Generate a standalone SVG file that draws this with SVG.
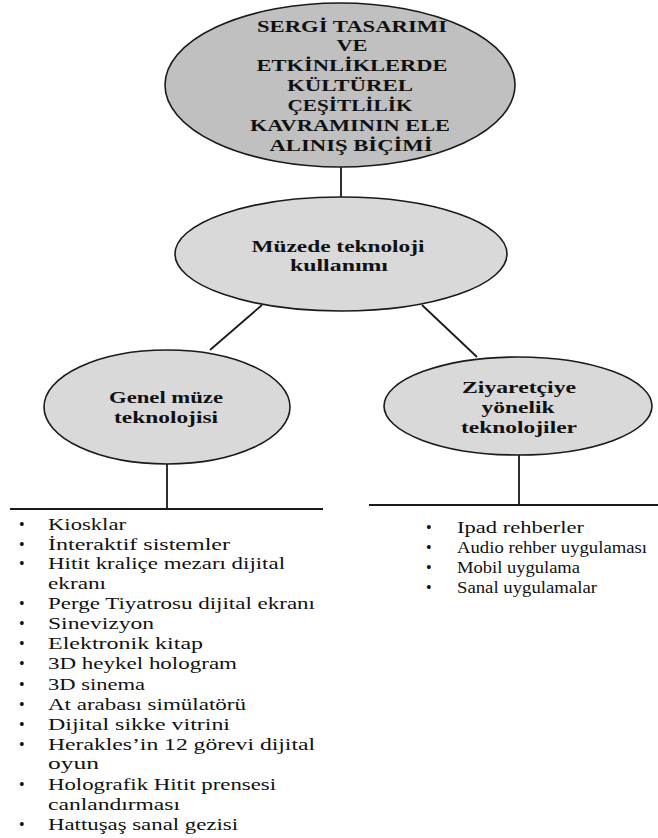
<svg xmlns="http://www.w3.org/2000/svg" width="658" height="838" viewBox="0 0 658 838">
  <style>
    .node { stroke: #1a1a1a; stroke-width: 1.6; }
    .main { fill: #c0c0c0; }
    .sub { fill: #d9d9d9; }
    .conn { stroke: #1a1a1a; stroke-width: 1.8; fill: none; }
    .title { font-weight: bold; font-size: 16px; fill: #111; text-anchor: middle; }
    .label { font-weight: bold; font-size: 16.5px; fill: #111; text-anchor: middle; }
    .item { font-size: 16px; fill: #111; }
  </style>

  <rect width="658" height="838" fill="#ffffff"/>

  <!-- connectors -->
  <g id="connectors">
    <line class="conn" x1="341" y1="167" x2="341" y2="197"/>
    <line class="conn" x1="262" y1="305" x2="210" y2="350"/>
    <line class="conn" x1="422" y1="305" x2="477" y2="357"/>
    <line class="conn" x1="167" y1="463" x2="167" y2="509"/>
    <line class="conn" x1="10" y1="509" x2="323" y2="509"/>
    <line class="conn" x1="519" y1="455" x2="519" y2="505"/>
    <line class="conn" x1="369" y1="505" x2="658" y2="505"/>
  </g>

  <g font-family="'Liberation Serif', 'DejaVu Serif', 'Times New Roman', serif">
  <!-- root concept -->
  <g id="node-root">
    <ellipse class="node main" cx="340" cy="85" rx="175" ry="82"/>
    <text class="title" x="352" y="32" textLength="190" lengthAdjust="spacingAndGlyphs">SERGİ TASARIMI</text>
    <text class="title" x="352" y="51" textLength="31" lengthAdjust="spacingAndGlyphs">VE</text>
    <text class="title" x="352" y="71" textLength="191" lengthAdjust="spacingAndGlyphs">ETKİNLİKLERDE</text>
    <text class="title" x="350" y="91" textLength="126" lengthAdjust="spacingAndGlyphs">KÜLTÜREL</text>
    <text class="title" x="350" y="111" textLength="125" lengthAdjust="spacingAndGlyphs">ÇEŞİTLİLİK</text>
    <text class="title" x="350" y="131" textLength="200" lengthAdjust="spacingAndGlyphs">KAVRAMININ ELE</text>
    <text class="title" x="351" y="151" textLength="163" lengthAdjust="spacingAndGlyphs">ALINIŞ BİÇİMİ</text>
  </g>

  <!-- technology use -->
  <g id="node-technology">
    <ellipse class="node sub" cx="341" cy="254" rx="166" ry="57"/>
    <text class="label" x="338" y="252" textLength="173" lengthAdjust="spacingAndGlyphs">Müzede teknoloji</text>
    <text class="label" x="339" y="271" textLength="98" lengthAdjust="spacingAndGlyphs">kullanımı</text>
  </g>

  <!-- general museum technology -->
  <g id="node-general">
    <ellipse class="node sub" cx="167" cy="407" rx="123" ry="57"/>
    <text class="label" x="166" y="403" textLength="114" lengthAdjust="spacingAndGlyphs">Genel müze</text>
    <text class="label" x="166" y="423" textLength="104" lengthAdjust="spacingAndGlyphs">teknolojisi</text>
  </g>

  <!-- visitor-oriented technology -->
  <g id="node-visitor">
    <ellipse class="node sub" cx="518" cy="406" rx="134" ry="49"/>
    <text class="label" x="519" y="393" textLength="114" lengthAdjust="spacingAndGlyphs">Ziyaretçiye</text>
    <text class="label" x="518" y="413" textLength="73" lengthAdjust="spacingAndGlyphs">yönelik</text>
    <text class="label" x="519" y="433" textLength="116" lengthAdjust="spacingAndGlyphs">teknolojiler</text>
  </g>

  <!-- general technology list -->
  <g id="list-general" class="item">
    <text x="19" y="530">•</text>
    <text x="48" y="530" textLength="78" lengthAdjust="spacingAndGlyphs">Kiosklar</text>
    <text x="19" y="550">•</text>
    <text x="48" y="550" textLength="182" lengthAdjust="spacingAndGlyphs">İnteraktif sistemler</text>
    <text x="19" y="569">•</text>
    <text x="48" y="569" textLength="237" lengthAdjust="spacingAndGlyphs">Hitit kraliçe mezarı  dijital</text>
    <text x="48" y="589" textLength="58" lengthAdjust="spacingAndGlyphs">ekranı</text>
    <text x="19" y="609">•</text>
    <text x="48" y="609" textLength="267" lengthAdjust="spacingAndGlyphs">Perge Tiyatrosu dijital ekranı</text>
    <text x="19" y="629">•</text>
    <text x="48" y="629" textLength="106" lengthAdjust="spacingAndGlyphs">Sinevizyon</text>
    <text x="19" y="649">•</text>
    <text x="48" y="649" textLength="155" lengthAdjust="spacingAndGlyphs">Elektronik kitap</text>
    <text x="19" y="669">•</text>
    <text x="48" y="669" textLength="189" lengthAdjust="spacingAndGlyphs">3D heykel hologram</text>
    <text x="19" y="690">•</text>
    <text x="48" y="690" textLength="97" lengthAdjust="spacingAndGlyphs">3D sinema</text>
    <text x="19" y="710">•</text>
    <text x="48" y="710" textLength="198" lengthAdjust="spacingAndGlyphs">At arabası simülatörü</text>
    <text x="19" y="730">•</text>
    <text x="48" y="730" textLength="182" lengthAdjust="spacingAndGlyphs">Dijital sikke vitrini</text>
    <text x="19" y="750">•</text>
    <text x="48" y="750" textLength="267" lengthAdjust="spacingAndGlyphs">Herakles’in 12 görevi dijital</text>
    <text x="48" y="769" textLength="51" lengthAdjust="spacingAndGlyphs">oyun</text>
    <text x="19" y="790">•</text>
    <text x="48" y="790" textLength="228" lengthAdjust="spacingAndGlyphs">Holografik Hitit prensesi</text>
    <text x="48" y="810" textLength="132" lengthAdjust="spacingAndGlyphs">canlandırması</text>
    <text x="19" y="830">•</text>
    <text x="48" y="830" textLength="190" lengthAdjust="spacingAndGlyphs">Hattuşaş sanal gezisi</text>
  </g>

  <!-- visitor technology list -->
  <g id="list-visitor" class="item">
    <text x="426" y="533">•</text>
    <text x="457" y="533" textLength="127" lengthAdjust="spacingAndGlyphs">Ipad rehberler</text>
    <text x="426" y="553">•</text>
    <text x="457" y="553" textLength="190" lengthAdjust="spacingAndGlyphs">Audio rehber uygulaması</text>
    <text x="426" y="573">•</text>
    <text x="457" y="573" textLength="123" lengthAdjust="spacingAndGlyphs">Mobil uygulama</text>
    <text x="426" y="593">•</text>
    <text x="457" y="593" textLength="140" lengthAdjust="spacingAndGlyphs">Sanal uygulamalar</text>
  </g>
  </g>
</svg>
